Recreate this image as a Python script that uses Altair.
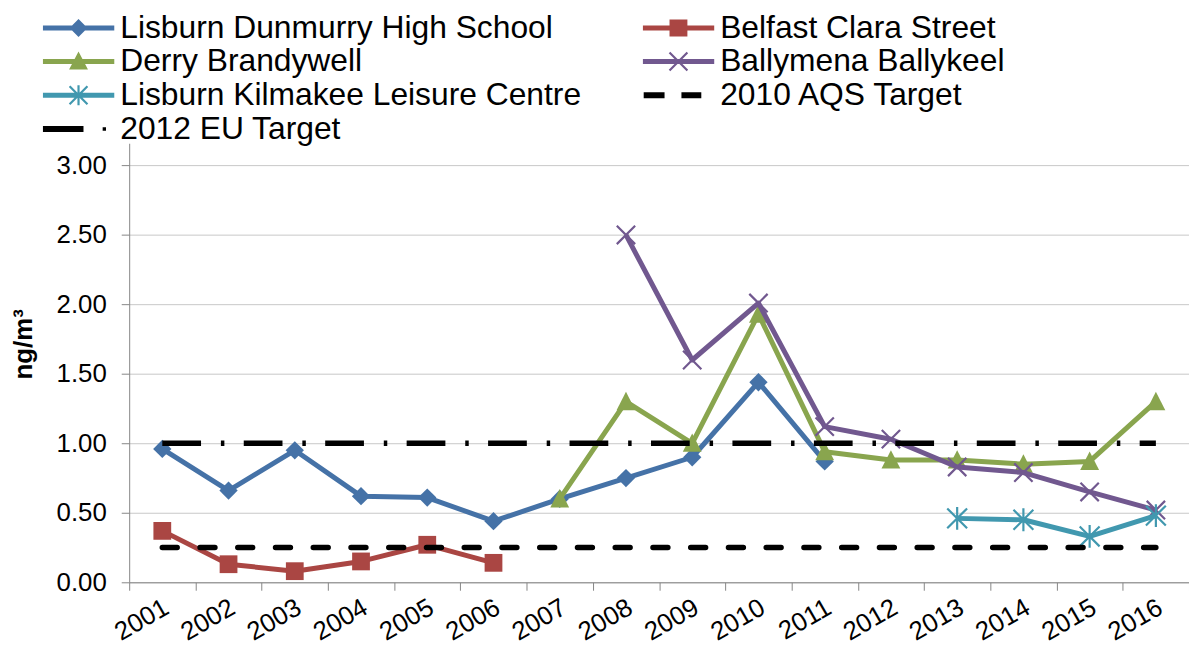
import altair as alt
import pandas as pd

# ---------------- data ----------------
years = [str(y) for y in range(2001, 2017)]

S1 = "Lisburn Dunmurry High School"
S2 = "Belfast Clara Street"
S3 = "Derry Brandywell"
S4 = "Ballymena Ballykeel"
S5 = "Lisburn Kilmakee Leisure Centre"
T1 = "2010 AQS Target"
T2 = "2012 EU Target"

lisburn_dunmurry_years = years[0:11]
lisburn_dunmurry = [0.96, 0.66, 0.95, 0.62, 0.61, 0.44, 0.60, 0.75, 0.90, 1.44, 0.87]
belfast_clara_years = years[0:6]
belfast_clara = [0.37, 0.13, 0.08, 0.15, 0.27, 0.14]
derry_years = years[6:16]
derry_brandywell = [0.60, 1.30, 1.00, 1.93, 0.94, 0.88, 0.88, 0.85, 0.87, 1.30]
ballymena_years = years[7:16]
ballymena_ballykeel = [2.50, 1.60, 2.01, 1.12, 1.03, 0.83, 0.79, 0.65, 0.52]
kilmakee_years = years[12:16]
lisburn_kilmakee = [0.46, 0.45, 0.33, 0.48]

aqs_target_2010 = 0.25
eu_target_2012 = 1.00
y_ticks = [0.0, 0.5, 1.0, 1.5, 2.0, 2.5, 3.0]

series_colors = {
    S1: "#4572A7", S2: "#AA4643", S3: "#89A54E", S4: "#71588F", S5: "#4198AF",
    T1: "#000000", T2: "#000000",
}

series_list = [
    (S1, lisburn_dunmurry_years, lisburn_dunmurry),
    (S2, belfast_clara_years, belfast_clara),
    (S3, derry_years, derry_brandywell),
    (S4, ballymena_years, ballymena_ballykeel),
    (S5, kilmakee_years, lisburn_kilmakee),
]
rows = []
for name, yrs, vals in series_list:
    for yr, v in zip(yrs, vals):
        rows.append({"series": name, "year": yr, "value": v})
df = pd.DataFrame(rows)

targets = pd.DataFrame([
    {"series": T1, "year": years[0], "value": aqs_target_2010},
    {"series": T1, "year": years[-1], "value": aqs_target_2010},
    {"series": T2, "year": years[0], "value": eu_target_2012},
    {"series": T2, "year": years[-1], "value": eu_target_2012},
])

# ---------------- legend symbol paths (line + marker) ----------------
U = 36.0  # pixels per unit for the legend symbol (sqrt(size)/2)


def f(v):
    return f"{v / U:.4f}"


def poly(pts):
    return "M" + "L".join(f"{f(x)},{f(y)}" for x, y in pts) + "Z"


def rect(x0, x1, y0, y1):
    return poly([(x0, y0), (x1, y0), (x1, y1), (x0, y1)])


def seg(x0, y0, x1, y1, w):
    dx, dy = x1 - x0, y1 - y0
    L = (dx * dx + dy * dy) ** 0.5
    nx, ny = -dy / L * w, dx / L * w
    return poly([(x0 - nx, y0 - ny), (x1 - nx, y1 - ny), (x1 + nx, y1 + ny), (x0 + nx, y0 + ny)])


bar = rect(-36, 36, -2.5, 2.5)
leg_path = {
    S1: bar + poly([(0, -9), (9, 0), (0, 9), (-9, 0)]),
    S2: bar + rect(-9, 9, -8.5, 8.5),
    S3: bar + poly([(0, -10), (9.5, 8), (-9.5, 8)]),
    S4: bar + seg(-9, -9, 9, 9, 1.1) + seg(-9, 9, 9, -9, 1.1),
    S5: bar + seg(-9, -9, 9, 9, 1.1) + seg(-9, 9, 9, -9, 1.1) + seg(0, -10, 0, 10, 1.1),
    T1: rect(-35, -14, -3, 3) + rect(3, 23, -3, 3),
    T2: rect(-36, 5, -3, 3) + rect(24.3, 27.7, -1.7, 1.7),
}

# legend entries fill column by column (two columns)
legend_names = [S1, S3, S5, T2, S2, S4, T1]
legend_colors = [series_colors[n] for n in legend_names]
legend_paths = [leg_path[n] for n in legend_names]

# ---------------- encodings ----------------
x_axis = alt.Axis(
    title=None, labelAngle=330, labelAlign="right", labelBaseline="middle",
    labelFontSize=26, labelPadding=15, labelOffset=4, tickBand="extent", tickSize=8,
    tickColor="#868686", domainColor="#868686", grid=False, labelColor="#000000",
)
y_axis = alt.Axis(
    values=y_ticks, format=".2f", title="ng/m³", titleFontSize=26, titleFontWeight="bold",
    titleAngle=270, titleX=-106, titleY=202, titleAlign="center", titleBaseline="middle",
    labelFontSize=26, labelPadding=15, tickSize=8, tickColor="#868686",
    domainColor="#868686", grid=True, gridColor="#C8C8C8", labelColor="#000000",
    titleColor="#000000",
)
X = alt.X("year:O", scale=alt.Scale(type="band", domain=years, paddingInner=0, paddingOuter=0), axis=x_axis)
Y = alt.Y("value:Q", scale=alt.Scale(domain=[0, 3.16], nice=False), axis=y_axis)

marker_specs = {
    S1: dict(shape="M0,-1L1,0L0,1L-1,0Z", size=340, filled=True),
    S2: dict(shape="square", size=320, filled=True),
    S3: dict(shape="M0,-1.05L1,0.9L-1,0.9Z", size=360, filled=True),
    S4: dict(shape="M-1,-1L1,1M-1,1L1,-1", size=340, filled=False),
    S5: dict(shape="M-1,-1L1,1M-1,1L1,-1M0,-1.15L0,1.15", size=400, filled=False),
}

base = alt.Chart(df)
layers = []
for name, _, _ in series_list:
    col = series_colors[name]
    sub = base.transform_filter(alt.datum.series == name)
    layers.append(
        sub.mark_line(strokeWidth=5, strokeJoin="round", color=col).encode(x=X, y=Y)
    )
    spec = marker_specs[name]
    if spec["filled"]:
        pm = sub.mark_point(filled=True, opacity=1, fill=col, strokeWidth=0,
                            shape=spec["shape"], size=spec["size"])
    else:
        pm = sub.mark_point(filled=False, opacity=1, stroke=col, strokeWidth=2.2,
                            shape=spec["shape"], size=spec["size"])
    layers.append(pm.encode(x=X, y=Y))

tgt = alt.Chart(targets)
layers.append(
    tgt.transform_filter(alt.datum.series == T1)
    .mark_line(color="#000000", strokeWidth=5.5, strokeDash=[15, 23], strokeCap="round")
    .encode(x=X, y=Y)
)
layers.append(
    tgt.transform_filter(alt.datum.series == T2)
    .mark_line(color="#000000", strokeWidth=5.5, strokeDash=[39, 20, 3.5, 19.5])
    .encode(x=X, y=Y)
)

legend = alt.Legend(
    title=None, orient="none", legendX=-87, legendY=-133, columns=2,
    columnPadding=61, rowPadding=0, clipHeight=33.3, symbolSize=5184,
    symbolStrokeWidth=0, labelFontSize=32, labelOffset=6, labelLimit=1000,
    padding=0, symbolOffset=0, labelColor="#000000",
)
legend_layer = (
    alt.Chart(df)
    .transform_filter("false")
    .mark_point(filled=True, opacity=1, size=5184)
    .encode(
        color=alt.Color("series:N", scale=alt.Scale(domain=legend_names, range=legend_colors), legend=legend),
        shape=alt.Shape("series:N", scale=alt.Scale(domain=legend_names, range=legend_paths), legend=legend),
    )
)
layers.append(legend_layer)

chart = (
    alt.layer(*layers)
    .properties(
        width=1067, height=442,
        autosize=alt.AutoSizeParams(type="none"),
        padding={"left": 122, "top": 134, "right": 0, "bottom": 67},
    )
    .configure(font="Liberation Sans")
    .configure_view(stroke=None)
)

chart.save("out.html", embed_options={"renderer": "svg", "actions": False})
